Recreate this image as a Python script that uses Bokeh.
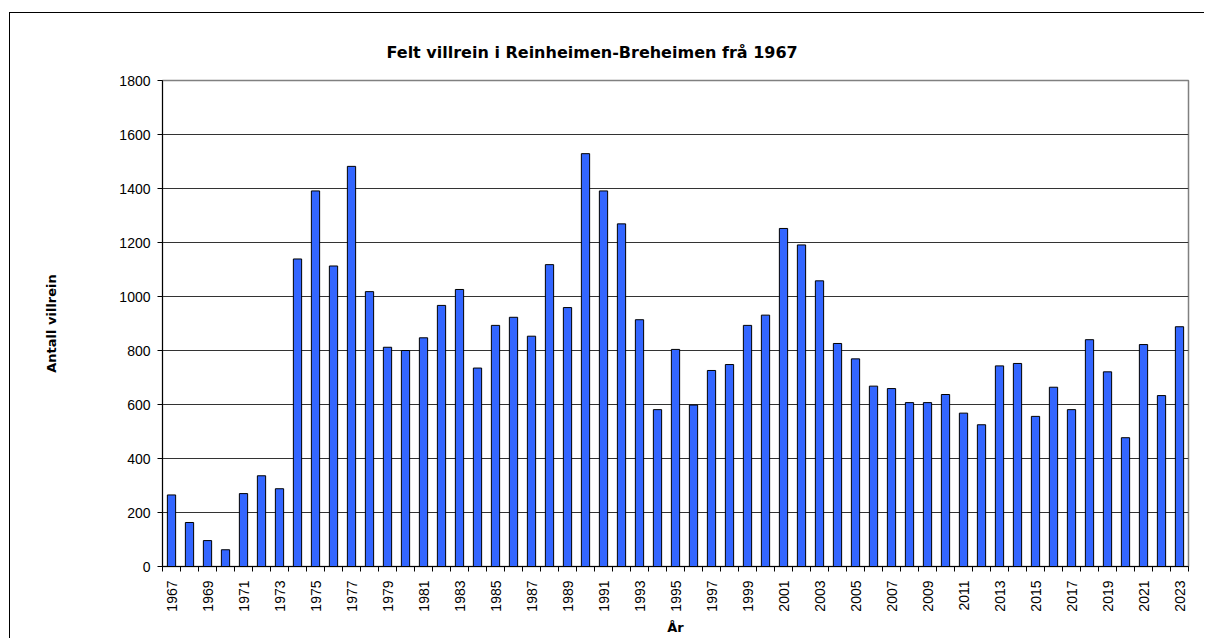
from bokeh.plotting import figure
from bokeh.models import Range1d, FixedTicker, ColumnDataSource
from bokeh.embed import file_html
from bokeh.resources import INLINE
from math import pi

years = list(range(1967, 2024))
felt = [265, 163, 96, 62, 270, 336, 288, 1139, 1391, 1113,
        1482, 1018, 812, 800, 847, 967, 1026, 735, 893, 923,
        853, 1118, 959, 1529, 1391, 1269, 914, 581, 804, 598,
        726, 748, 893, 931, 1252, 1191, 1058, 826, 769, 668,
        659, 607, 607, 637, 568, 525, 743, 752, 556, 664,
        581, 840, 721, 477, 822, 633, 888]
y_ticks = [0, 200, 400, 600, 800, 1000, 1200, 1400, 1600, 1800]
label_years = [y for y in years if (y - 1967) % 2 == 0]
title_text = "Felt villrein i Reinheimen-Breheimen frå 1967"
x_label = "År"
y_label = "Antall villrein"

FONT = "Liberation Sans"
WIDE = "DejaVu Sans"

src = ColumnDataSource(dict(x=years, top=felt))

p = figure(width=1195, height=626, output_backend="svg", toolbar_location=None,
           x_range=Range1d(years[0] - 0.5, years[-1] + 0.5),
           y_range=Range1d(y_ticks[0], y_ticks[-1]),
           min_border_left=152, min_border_right=17, min_border_top=67,
           min_border_bottom=73, margin=(12, 0, 0, 9),
           title=title_text)
p.styles = {"border-left": "1px solid black", "border-top": "1px solid black"}

p.vbar(x="x", top="top", width=0.46, source=src, fill_color="#3366FF",
       line_color="black", line_width=1)

p.title.text_font = WIDE
p.title.text_font_size = "16px"
p.title.text_font_style = "bold"
p.title.text_color = "black"
p.title.align = "left"
p.title.offset = 224
p.title.standoff = 38

p.xaxis.ticker = FixedTicker(ticks=label_years,
                             minor_ticks=[y - 0.5 for y in years] + [years[-1] + 0.5])
p.xaxis.major_tick_line_color = None
p.xaxis.minor_tick_line_color = "black"
p.xaxis.minor_tick_out = 5
p.xaxis.minor_tick_in = 0
p.xaxis.major_label_orientation = pi / 2
p.xaxis.major_label_standoff = 8
p.xaxis.axis_label = x_label
p.xaxis.axis_label_standoff = 5

p.yaxis.ticker = FixedTicker(ticks=y_ticks)
p.yaxis.minor_tick_line_color = None
p.yaxis.major_tick_out = 5
p.yaxis.major_tick_in = 0
p.yaxis.major_label_standoff = 7
p.yaxis.axis_label = y_label
p.yaxis.axis_label_standoff = 57

for ax in (p.xaxis, p.yaxis):
    ax.axis_line_color = "black"
    ax.major_label_text_font = FONT
    ax.major_label_text_font_size = "14px"
    ax.major_label_text_color = "black"
    ax.axis_label_text_font = WIDE
    ax.axis_label_text_font_size = "13px"
    ax.axis_label_text_font_style = "bold"
    ax.axis_label_text_color = "black"
p.yaxis.major_tick_line_color = "black"

p.xgrid.grid_line_color = None
p.ygrid.grid_line_color = "#333333"
p.ygrid.grid_line_width = 1
p.outline_line_color = "#808080"
p.outline_line_width = 1.5
p.background_fill_color = "white"
p.border_fill_color = "white"

open("out.html", "w").write(file_html(p, INLINE))
